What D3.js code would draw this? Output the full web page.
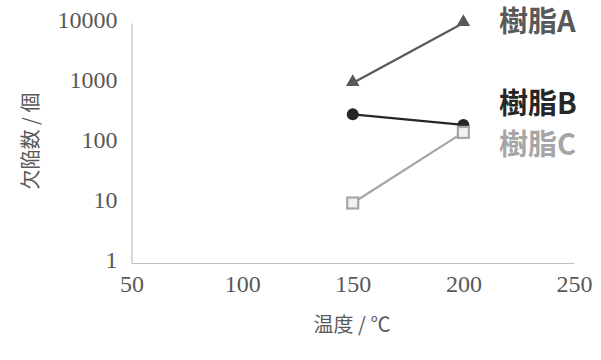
<!DOCTYPE html>
<html>
<head>
<meta charset="utf-8">
<script src="https://cdn.jsdelivr.net/npm/d3@7"></script>
<style>
  body { margin: 0; background: #fff; }
  .axis-title { font-family: "Noto Sans CJK JP", sans-serif; font-size: 20px; fill: #595959; }
  .series-label { font-family: "Noto Sans CJK JP", sans-serif; font-size: 29px; font-weight: bold; }
</style>
</head>
<body>
<svg id="chart" width="601" height="360"></svg>
<script>
// temperatures (x) and defect counts (y, log)
const temps = [150, 200]
const resinA = [1000, 10000]
const resinB = [300, 200]
const resinC = [10, 150]
const seriesNames = ["樹脂A", "樹脂B", "樹脂C"]
const xTicks = [50, 100, 150, 200, 250]
const yTicks = [1, 10, 100, 1000, 10000]

const width = 601, height = 360
const margin = { top: 23, right: 27, bottom: 97, left: 131.5 }
const innerWidth = width - margin.left - margin.right
const innerHeight = height - margin.top - margin.bottom

const svg = d3.select('#chart')
const g = svg.append('g').attr('transform', `translate(${margin.left},${margin.top})`)

const xScale = d3.scaleLinear().domain([50, 250]).range([0, innerWidth])
const yScale = d3.scaleLog().domain([1, 10000]).range([innerHeight, 0])

// axes lines only, the original has no tick marks
const xAxis = d3.axisBottom(xScale).tickValues(xTicks).tickSize(0).tickPadding(11).tickFormat(d3.format('d'))
const yAxis = d3.axisLeft(yScale).tickValues(yTicks).tickSize(0).tickPadding(14).tickFormat(d3.format('d'))

const xAxisG = g.append('g').attr('transform', `translate(0,${innerHeight})`).call(xAxis)
const yAxisG = g.append('g').call(yAxis)

for (const ax of [xAxisG, yAxisG]) {
  ax.select('.domain').attr('stroke', '#bfbfbf').attr('stroke-width', 1.2)
  ax.selectAll('text')
    .attr('fill', '#595959')
    .style('font-family', '"Liberation Serif", serif')
    .style('font-size', '24px')
}
xAxisG.selectAll('text').attr('dy', '0.75em')
yAxisG.selectAll('text').attr('dy', '0.2em')

// axis titles
svg.append('text')
  .attr('class', 'axis-title')
  .attr('x', 352).attr('y', 325)
  .attr('dy', '0.35em')
  .attr('text-anchor', 'middle')
  .text('温度 / ℃')

svg.append('text')
  .attr('class', 'axis-title')
  .attr('transform', 'translate(31,141) rotate(-90)')
  .attr('dy', '0.35em')
  .attr('text-anchor', 'middle')
  .text('欠陥数 / 個')

const series = [
  { name: seriesNames[0], values: resinA, color: '#595959', marker: 'triangle', labelY: 22 },
  { name: seriesNames[1], values: resinB, color: '#262626', marker: 'circle', labelY: 104 },
  { name: seriesNames[2], values: resinC, color: '#a6a6a6', marker: 'square', labelY: 145 }
]

const line = d3.line()
  .x(d => xScale(d[0]))
  .y(d => yScale(d[1]))

series.forEach(s => {
  const pts = temps.map((t, i) => [t, s.values[i]])
  g.append('path')
    .datum(pts)
    .attr('fill', 'none')
    .attr('stroke', s.color)
    .attr('stroke-width', 2.2)
    .attr('d', line)

  const marks = g.selectAll(null).data(pts).enter()
  if (s.marker == 'triangle') {
    marks.append('path')
      .attr('d', d3.symbol().type(d3.symbolTriangle).size(80))
      .attr('transform', d => `translate(${xScale(d[0])},${yScale(d[1]) - 1})`)
      .attr('fill', s.color)
  } else if (s.marker == 'circle') {
    marks.append('circle')
      .attr('cx', d => xScale(d[0]))
      .attr('cy', d => yScale(d[1]))
      .attr('r', 6)
      .attr('fill', s.color)
  } else {
    marks.append('rect')
      .attr('x', d => xScale(d[0]) - 5.5)
      .attr('y', d => yScale(d[1]) - 5.5)
      .attr('width', 11)
      .attr('height', 11)
      .attr('fill', '#f2f2f2')
      .attr('stroke', s.color)
      .attr('stroke-width', 2.2)
  }

  svg.append('text')
    .attr('class', 'series-label')
    .attr('x', 499)
    .attr('y', s.labelY)
    .attr('dy', '0.35em')
    .attr('fill', s.color)
    .text(s.name)
})
</script>
</body>
</html>
